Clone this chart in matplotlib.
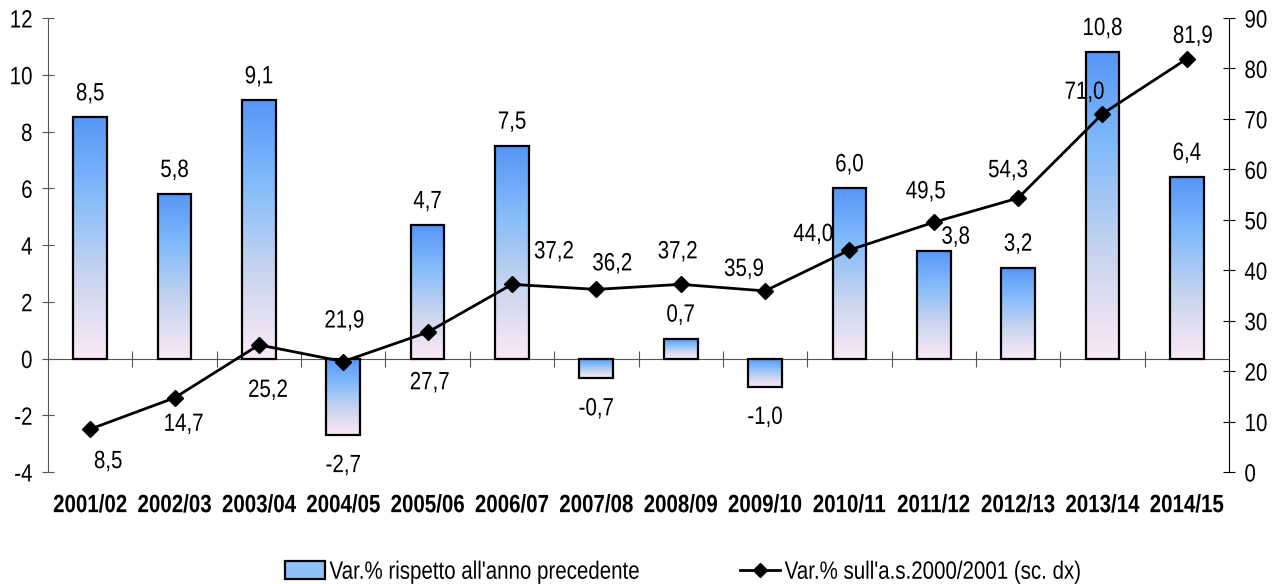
import numpy as np
import matplotlib
matplotlib.use("Agg")
import matplotlib.pyplot as plt
from matplotlib.colors import LinearSegmentedColormap
from matplotlib.patches import Patch
from matplotlib.lines import Line2D
from matplotlib.path import Path
from matplotlib.patheffects import AbstractPathEffect
from matplotlib.transforms import Affine2D, blended_transform_factory

plt.rcParams['font.family'] = ['Liberation Sans', 'DejaVu Sans']

# data
anni = ['2001/02', '2002/03', '2003/04', '2004/05', '2005/06', '2006/07', '2007/08',
        '2008/09', '2009/10', '2010/11', '2011/12', '2012/13', '2013/14', '2014/15']
var_prec = [8.5, 5.8, 9.1, -2.7, 4.7, 7.5, -0.7, 0.7, -1.0, 6.0, 3.8, 3.2, 10.8, 6.4]
var_2000 = [8.5, 14.7, 25.2, 21.9, 27.7, 37.2, 36.2, 37.2, 35.9, 44.0, 49.5, 54.3, 71.0, 81.9]
left_ticks = [-4, -2, 0, 2, 4, 6, 8, 10, 12]
right_ticks = [0, 10, 20, 30, 40, 50, 60, 70, 80, 90]
leg_bar = "Var.% rispetto all'anno precedente"
leg_line = "Var.% sull'a.s.2000/2001 (sc. dx)"

# label offsets in pixels for the line values (placement as in the original)
line_off = [(18, -32), (9, -26), (9, -45), (1, 41), (2, -50), (42, 33), (16, 26),
            (-3, 33), (-21, 22), (-36, 16), (-8, 31), (-10, 28), (-18, 22), (6, 23)]

FS = 18


class Squeeze(AbstractPathEffect):
    """narrow the glyphs horizontally (the original uses a condensed Arial)"""
    def __init__(self, sx=0.82, anchor='center'):
        super().__init__()
        self.sx = sx
        self.anchor = anchor

    def draw_path(self, renderer, gc, tpath, affine, rgbFace=None):
        v = tpath.vertices
        if tpath.codes is not None:
            v = v[tpath.codes != Path.CLOSEPOLY]
        xs = affine.transform(v)[:, 0] if len(v) else np.array([0.0])
        if self.anchor == 'left':
            cx = xs.min()
        elif self.anchor == 'right':
            cx = xs.max()
        else:
            cx = (xs.min() + xs.max()) / 2
        aff = affine + Affine2D().translate(-cx, 0).scale(self.sx, 1).translate(cx, 0)
        renderer.draw_path(gc, tpath, aff, rgbFace)


def fmt(v):
    return f"{v:.1f}".replace('.', ',')


fig = plt.figure(figsize=(12.79, 5.84), dpi=100)
ax = fig.add_axes([48/1279, 1 - 472/584, (1229 - 48)/1279, (472 - 18)/584])
ax2 = ax.twinx()

x = np.arange(len(anni))
cmap = LinearSegmentedColormap.from_list('grad', ['#fbe9f6', '#c9d5ef', '#85bcfa', '#5596f8'])
grad = np.linspace(0, 1, 256).reshape(-1, 1)

bars = ax.bar(x, var_prec, width=0.4, facecolor='none', edgecolor='black', linewidth=1.6, zorder=3)
for r in bars:
    x0, w = r.get_x(), r.get_width()
    y0, y1 = sorted([r.get_y(), r.get_y() + r.get_height()])
    im = ax.imshow(grad, extent=[x0, x0 + w, y0, y1], origin='lower', aspect='auto',
                   cmap=cmap, zorder=2)
    im.set_clip_path(r)

sq = [Squeeze()]
for i, v in enumerate(var_prec):
    dx = 22 if i == 10 else 0
    if v >= 0:
        dy = 2 if i == 10 else 12
        ax.annotate(fmt(v), (x[i], v), xytext=(dx, dy), textcoords='offset pixels',
                    ha='center', va='bottom', fontsize=FS, path_effects=sq)
    else:
        ax.annotate(fmt(v), (x[i], v), xytext=(dx, -18), textcoords='offset pixels',
                    ha='center', va='top', fontsize=FS, path_effects=sq)

ax.set_xlim(-0.5, len(anni) - 0.5)
ax.set_ylim(-4, 12)
ax.set_yticks(left_ticks)
ax.set_yticklabels([str(t) for t in left_ticks])
ax.spines['top'].set_visible(False)
ax.spines['right'].set_visible(False)
ax.spines['bottom'].set_position(('data', 0))
ax.spines['bottom'].set_color('#555555')
ax.spines['left'].set_color('#555555')
ax.set_xticks(np.arange(0.5, len(anni) - 1, 1.0))
ax.set_xticklabels([])
ax.tick_params(axis='x', direction='inout', length=11, color='#555555')
ax.tick_params(axis='y', direction='inout', length=8, labelsize=FS, pad=7, color='#555555')
for t in ax.get_yticklabels():
    t.set_path_effects([Squeeze(anchor='right')])

tr = blended_transform_factory(ax.transData, ax.transAxes)
for i, lab in enumerate(anni):
    ax.text(x[i], -0.073, lab, transform=tr, ha='center', va='center',
            fontsize=FS, fontweight='bold', path_effects=sq)

ax2.plot(x, var_2000, color='black', linewidth=2, marker='D', markersize=8, zorder=4)
for i, v in enumerate(var_2000):
    ax2.annotate(fmt(v), (x[i], v), xytext=line_off[i], textcoords='offset pixels',
                 ha='center', va='center', fontsize=FS, path_effects=sq)
ax2.set_ylim(0, 90)
ax2.set_yticks(right_ticks)
for s in ['top', 'bottom', 'left']:
    ax2.spines[s].set_visible(False)
ax2.tick_params(axis='y', direction='inout', length=8, labelsize=FS, pad=7)
for t in ax2.get_yticklabels():
    t.set_path_effects([Squeeze(anchor='left')])

handles = [Patch(facecolor='#8fc0f9', edgecolor='black', linewidth=1.6),
           Line2D([0], [0], color='black', linewidth=2, marker='D', markersize=7)]
leg = fig.legend(handles, [leg_bar, leg_line], loc='center left',
                 bbox_to_anchor=(272/1279, 0.021), borderpad=0, ncol=2, frameon=False,
                 fontsize=FS, handlelength=1.6, handletextpad=0.2, columnspacing=1.3)
for t in leg.get_texts():
    t.set_path_effects([Squeeze(anchor='left')])

fig.savefig('out.png', dpi=100)
